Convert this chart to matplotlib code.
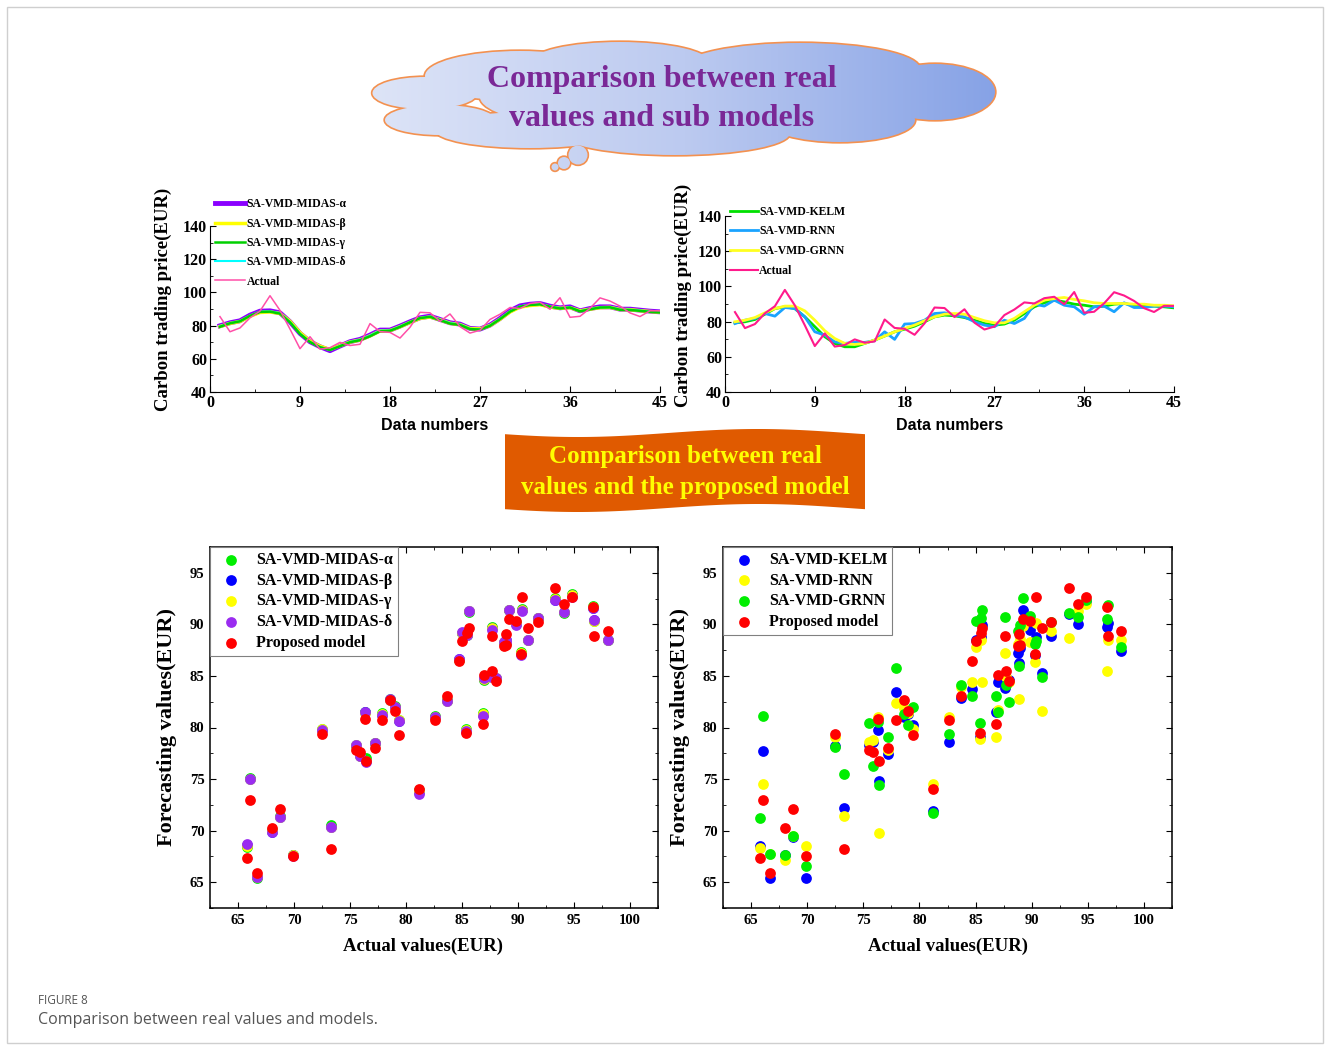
import numpy as np
import matplotlib
matplotlib.use("Agg")
import matplotlib.pyplot as plt
from matplotlib.patches import Ellipse, Rectangle, Polygon, Circle
from matplotlib.colors import LinearSegmentedColormap
from matplotlib.ticker import MultipleLocator

W, H = 1330, 1050
SERIF = ["Liberation Serif", "DejaVu Serif"]
SANS = ["Liberation Sans", "DejaVu Sans"]

# ---- data -------------------------------------------------------------
t = list(range(1, 46))
actual = [85.4, 76.3, 78.6, 84.7, 88.75, 98.0, 89.2, 77.9, 66.1, 73.3, 65.8, 66.7, 69.9, 68.0, 68.75,
          81.2, 76.4, 75.9, 72.5, 79.0, 88.0, 87.7, 82.6, 87.0, 79.4, 75.5, 77.2, 83.7, 86.85, 90.9,
          90.3, 93.3, 94.1, 89.85, 96.8, 85.0, 85.6, 90.4, 96.7, 94.8, 91.75, 87.65, 85.45, 88.95, 88.9]

# top-left line chart (sub models)
midas_a = [79.9, 81.7, 82.9, 86.3, 88.7, 88.9, 87.7, 82.3, 75.3, 70.3, 67.3, 64.9, 67.7, 70.3, 71.7,
           74.3, 77.3, 77.3, 79.7, 82.3, 84.7, 85.7, 83.7, 81.7, 80.9, 78.3, 77.9, 80.3, 84.3, 88.9,
           91.9, 92.9, 93.3, 91.7, 90.7, 91.3, 88.9, 90.3, 91.3, 91.3, 89.9, 89.9, 89.3, 88.7, 88.3]
midas_b = [79.5, 81.3, 82.5, 85.6, 87.9, 88.2, 87.3, 82.6, 75.8, 70.6, 67.6, 65.6, 67.9, 70.1, 71.3,
           73.8, 76.8, 77.0, 79.3, 81.9, 84.3, 85.2, 83.5, 81.4, 80.6, 78.2, 78.0, 80.0, 83.8, 88.2,
           91.1, 92.1, 92.6, 91.2, 90.4, 90.8, 88.9, 89.9, 90.8, 91.0, 89.7, 89.6, 89.0, 88.5, 88.1]
midas_g = [79.3, 81.4, 82.6, 85.9, 88.2, 88.4, 87.2, 82.0, 75.0, 70.1, 67.0, 65.3, 67.6, 70.0, 71.2,
           73.6, 76.6, 76.9, 79.2, 82.0, 84.5, 85.3, 83.3, 81.2, 80.4, 77.9, 77.6, 79.9, 83.9, 88.4,
           91.4, 92.4, 92.8, 91.4, 90.3, 90.9, 88.6, 89.8, 90.9, 91.0, 89.5, 89.4, 88.9, 88.3, 87.9]
midas_d = [79.6, 81.5, 82.7, 86.0, 88.4, 88.6, 87.5, 82.2, 75.2, 70.2, 67.2, 65.2, 67.8, 70.2, 71.5,
           74.0, 77.0, 77.1, 79.5, 82.1, 84.5, 85.5, 83.6, 81.5, 80.7, 78.1, 77.8, 80.1, 84.0, 88.6,
           91.6, 92.6, 93.0, 91.5, 90.5, 91.0, 88.7, 90.0, 91.0, 91.1, 89.7, 89.6, 89.1, 88.5, 88.1]

# top-right line chart
kelm = [79.3, 79.9, 81.2, 84.2, 87.4, 88.4, 87.4, 82.7, 77.1, 71.4, 67.6, 65.7, 65.7, 67.6, 69.5,
        71.8, 74.2, 75.7, 77.4, 79.9, 82.7, 83.7, 83.3, 82.3, 80.8, 78.9, 78.0, 78.6, 80.8, 84.6,
        88.4, 90.7, 92.2, 91.2, 89.9, 89.3, 88.4, 88.8, 89.9, 90.3, 89.3, 88.8, 88.8, 88.4, 87.8]
rnn = [78.9, 80.8, 81.8, 84.6, 83.1, 88.0, 87.4, 82.7, 74.2, 72.3, 68.5, 67.6, 68.2, 68.2, 69.1,
       74.2, 69.9, 78.6, 78.9, 80.8, 84.6, 85.0, 83.7, 82.7, 79.9, 78.0, 77.1, 80.8, 78.9, 81.8,
       89.9, 88.8, 92.2, 89.3, 88.4, 84.2, 88.4, 88.8, 85.6, 90.7, 88.0, 88.0, 88.8, 88.8, 88.4]
grnn = [79.9, 80.8, 82.3, 85.0, 87.4, 88.8, 88.8, 86.1, 80.8, 74.8, 70.4, 67.6, 67.0, 67.6, 69.5,
        71.8, 74.2, 76.1, 78.0, 80.5, 82.7, 84.2, 84.6, 84.2, 82.3, 80.5, 79.3, 79.3, 81.8, 85.6,
        89.3, 92.2, 93.1, 93.7, 92.6, 91.8, 90.7, 90.3, 90.3, 90.3, 89.9, 89.9, 89.3, 89.3, 89.0]

# scatter plots: predictions ordered by increasing actual value
scatter_x = sorted(actual)
proposed = [67.3, 73.0, 65.9, 70.3, 72.1, 67.5, 79.4, 68.2, 77.85, 77.65, 80.8, 76.8, 78.0, 80.7, 82.65,
            81.6, 79.3, 74.0, 80.7, 83.05, 86.4, 88.4, 79.5, 89.2, 89.65, 80.35, 85.1, 88.9, 85.45, 84.5,
            87.9, 89.1, 88.0, 90.55, 90.3, 87.15, 92.7, 89.6, 90.2, 93.5, 91.95, 92.7, 91.7, 88.85, 89.4]
sc_alpha = [68.4, 75.1, 65.4, 70.1, 71.4, 67.6, 79.9, 70.55, 78.2, 77.3, 81.5, 77.0, 78.5, 81.4, 82.8,
            82.1, 80.7, 73.9, 81.1, 82.7, 86.5, 89.2, 79.85, 89.0, 91.2, 81.4, 84.6, 89.75, 85.0, 84.7,
            88.2, 88.4, 88.2, 91.4, 90.1, 87.3, 91.5, 88.5, 90.6, 92.6, 91.1, 92.9, 91.8, 90.3, 88.5]
sc_beta = [68.6, 75.0, 65.5, 69.9, 71.3, 67.6, 79.8, 70.4, 78.3, 77.2, 81.5, 76.8, 78.5, 81.2, 82.7,
           82.0, 80.6, 73.7, 81.0, 82.6, 86.6, 89.2, 79.7, 89.0, 91.3, 81.2, 84.7, 89.6, 84.9, 84.8,
           88.3, 88.5, 88.3, 91.4, 90.0, 87.1, 91.4, 88.5, 90.6, 92.4, 91.2, 92.8, 91.6, 90.4, 88.5]
sc_gamma = [68.5, 75.0, 65.5, 70.0, 71.3, 67.6, 79.9, 70.4, 78.3, 77.2, 81.4, 76.8, 78.5, 81.3, 82.7,
            82.0, 80.7, 73.8, 81.0, 82.6, 86.5, 89.2, 79.8, 89.0, 91.3, 81.3, 84.7, 89.6, 84.9, 84.8,
            88.3, 88.4, 88.3, 91.4, 90.0, 87.2, 91.4, 88.5, 90.6, 92.5, 91.2, 92.8, 91.7, 90.3, 88.5]
sc_delta = [68.66, 75.0, 65.55, 69.85, 71.3, 67.55, 79.8, 70.35, 78.35, 77.2, 81.5, 76.7, 78.5, 81.2, 82.75,
            82.0, 80.6, 73.6, 81.0, 82.6, 86.6, 89.25, 79.7, 89.0, 91.3, 81.1, 84.8, 89.5, 84.9, 84.8,
            88.3, 88.5, 88.3, 91.4, 89.9, 87.0, 91.3, 88.45, 90.6, 92.35, 91.2, 92.7, 91.55, 90.4, 88.5]
sc_kelm = [68.5, 77.7, 65.4, 67.6, 69.4, 65.4, 78.2, 72.15, 78.3, 78.6, 79.8, 74.8, 77.45, 83.4, 81.0,
           81.3, 80.2, 71.9, 78.6, 82.9, 83.7, 88.5, 79.1, 88.8, 89.9, 81.5, 84.4, 83.8, 84.6, 84.6,
           87.2, 86.3, 87.7, 91.4, 89.5, 87.0, 88.8, 85.3, 88.85, 91.0, 90.0, 92.2, 89.7, 90.1, 87.4]
sc_rnn = [68.3, 74.5, 67.7, 67.2, 69.45, 68.5, 79.1, 71.45, 78.6, 78.8, 81.0, 69.8, 77.85, 82.4, 81.9,
          81.4, 79.9, 74.5, 81.0, 83.9, 84.4, 87.8, 78.9, 88.5, 84.4, 79.05, 81.7, 87.2, 84.9, 84.4,
          88.1, 82.8, 88.6, 89.8, 88.3, 86.35, 90.15, 81.6, 89.4, 88.7, 91.3, 91.95, 85.45, 88.45, 88.5]
sc_grnn = [71.2, 81.1, 67.7, 67.65, 69.45, 66.6, 78.1, 75.5, 80.4, 76.3, 80.5, 74.4, 79.1, 85.8, 81.3,
           80.2, 82.0, 71.7, 79.4, 84.15, 83.1, 90.3, 80.45, 90.6, 91.4, 83.1, 81.5, 90.7, 84.1, 82.5,
           89.4, 86.0, 89.9, 92.6, 90.8, 88.1, 88.4, 84.85, 90.25, 91.1, 90.7, 92.4, 90.5, 91.9, 87.8]

# ---- figure -------------------------------------------------------------
fig = plt.figure(figsize=(W / 100, H / 100), dpi=100)
bg = fig.add_axes([0, 0, 1, 1], zorder=-5)
bg.set_xlim(0, W)
bg.set_ylim(H, 0)
bg.axis("off")

# outer frame
bg.add_patch(Rectangle((7, 7), 1316, 1036, fill=False, ec="#cfcfcf", lw=1))

# thought cloud, lobes in pixel units (cx, cy, w, h)
lobes = [(425, 93, 105, 32), (440, 120, 110, 30), (520, 76, 190, 50), (620, 63, 180, 42),
         (800, 69, 240, 52), (935, 92, 120, 56), (840, 120, 150, 44), (675, 133, 230, 44),
         (530, 130, 190, 36), (690, 97, 420, 78)]
bubbles = [(578, 155, 9.5), (564, 163, 6), (555, 167, 3.5)]
cmap = LinearSegmentedColormap.from_list("cl", ["#dde4f7", "#bccaf0", "#86a2e6"])
grad = np.linspace(0, 1, 256).reshape(1, -1)
shapes = [Ellipse((cx, cy), w, h) for cx, cy, w, h in lobes] + [Circle((x, y), r) for x, y, r in bubbles]
for s in shapes:
    s.set_facecolor("none")
    s.set_edgecolor("#f39150")
    s.set_linewidth(2.4)
    bg.add_patch(s)
for s in shapes:
    im = bg.imshow(grad, cmap=cmap, extent=(372, 998, 175, 40), aspect="auto", zorder=2)
    im.set_clip_path(s)
bg.set_xlim(0, W)
bg.set_ylim(H, 0)
bg.text(662, 99, "Comparison between real\nvalues and sub models", ha="center", va="center",
        color="#7a2896", fontsize=23, fontweight="bold", family=SERIF, linespacing=1.47, zorder=3)

# orange wavy banner
xs = np.linspace(505, 865, 80)
top = 433 + 4 * np.sin((xs - 505) / 360 * 2 * np.pi + 0.3)
bot = 508 + 4 * np.sin((xs - 505) / 360 * 2 * np.pi + 0.3)
verts = list(zip(xs, top)) + list(zip(xs[::-1], bot[::-1]))
bg.add_patch(Polygon(verts, closed=True, fc="#e05a00", ec="none", zorder=2))
bg.text(685, 472, "Comparison between real\nvalues and the proposed model", ha="center", va="center",
        color="#ffff00", fontsize=18, fontweight="bold", family=SERIF, linespacing=1.42, zorder=3)

# caption
bg.text(38, 1000, "FIGURE 8", ha="left", va="center", fontsize=8.5, color="#555555",
        family=["Open Sans", "DejaVu Sans"])
bg.text(38, 1020, "Comparison between real values and models.", ha="left", va="center", fontsize=11.5,
        color="#555555", family=["Open Sans", "DejaVu Sans"])


def px_axes(x0, y0, x1, y1):
    return fig.add_axes([x0 / W, 1 - y1 / H, (x1 - x0) / W, (y1 - y0) / H])


def style_ticks(ax, size):
    for lab in ax.get_xticklabels() + ax.get_yticklabels():
        lab.set_fontfamily(SERIF)
        lab.set_fontweight("bold")
        lab.set_fontsize(size)


def line_chart(ax, label_xy):
    ax.set_facecolor("none")
    ax.set_xlim(0, 45)
    ax.set_ylim(40, 140)
    ax.xaxis.set_major_locator(MultipleLocator(9))
    ax.xaxis.set_minor_locator(MultipleLocator(4.5))
    ax.yaxis.set_major_locator(MultipleLocator(20))
    ax.yaxis.set_minor_locator(MultipleLocator(10))
    ax.spines["top"].set_visible(False)
    ax.spines["right"].set_visible(False)
    ax.tick_params(which="both", direction="in", pad=2)
    ax.tick_params(which="major", length=4)
    ax.tick_params(which="minor", length=2)
    style_ticks(ax, 11.5)
    ax.set_ylabel("Carbon trading price(EUR)", family=SERIF, fontweight="bold", fontsize=13.5)
    ax.yaxis.set_label_coords(*label_xy)
    ax.set_xlabel("Data numbers", family=SANS, fontweight="bold", fontsize=11.5, labelpad=5)


leg_font = {"family": SERIF, "weight": "bold", "size": 8.5}

ax1 = px_axes(210, 226, 660, 392)
ax1.plot(t, midas_a, color="#8a00ff", lw=3.5, label="SA-VMD-MIDAS-α")
ax1.plot(t, midas_b, color="#ffff00", lw=2.5, label="SA-VMD-MIDAS-β")
ax1.plot(t, midas_d, color="#00ffff", lw=1.5, label="SA-VMD-MIDAS-δ")
ax1.plot(t, midas_g, color="#00d000", lw=1.8, label="SA-VMD-MIDAS-γ")
ax1.plot(t, actual, color="#ff4fa8", lw=1.1, label="Actual")
line_chart(ax1, (-0.084, 0.56))
h, l = ax1.get_legend_handles_labels()
order = [0, 1, 3, 2, 4]
ax1.legend([h[i] for i in order], [l[i] for i in order], loc="upper left", bbox_to_anchor=(0.0, 1.195),
           frameon=False, prop=leg_font, handlelength=2.6, handletextpad=0.1, labelspacing=0.62,
           borderaxespad=0)

ax2 = px_axes(725, 216, 1174, 392)
ax2.plot(t, kelm, color="#00e000", lw=2, label="SA-VMD-KELM")
ax2.plot(t, rnn, color="#1aa3ff", lw=2, label="SA-VMD-RNN")
ax2.plot(t, grnn, color="#ffff20", lw=2, label="SA-VMD-GRNN")
ax2.plot(t, actual, color="#ff1a8c", lw=1.5, label="Actual")
line_chart(ax2, (-0.073, 0.55))
ax2.legend(loc="upper left", bbox_to_anchor=(0.0, 1.085), frameon=False, prop=leg_font,
           handlelength=2.4, handletextpad=0.1, labelspacing=0.65, borderaxespad=0)


def scatter_chart(ax, xlabel_x):
    ax.set_facecolor("none")
    ax.set_xlim(62.5, 102.5)
    ax.set_ylim(62.5, 97.5)
    ax.xaxis.set_major_locator(MultipleLocator(5))
    ax.xaxis.set_minor_locator(MultipleLocator(2.5))
    ax.yaxis.set_major_locator(MultipleLocator(5))
    ax.yaxis.set_minor_locator(MultipleLocator(2.5))
    ax.tick_params(which="both", direction="in", right=True, top=True, pad=4)
    ax.tick_params(which="major", length=4)
    ax.tick_params(which="minor", length=2.5)
    for sp in ax.spines.values():
        sp.set_linewidth(1.1)
    style_ticks(ax, 10.5)
    ax.set_ylabel("Forecasting values(EUR)", family=SERIF, fontweight="bold", fontsize=16)
    ax.yaxis.set_label_coords(-0.074, 0.5)
    ax.set_xlabel("Actual values(EUR)", family=SERIF, fontweight="bold", fontsize=13.5)
    ax.xaxis.set_label_coords(xlabel_x, -0.082)


sc_font = {"family": SERIF, "weight": "bold", "size": 11.5}
S = 60
leg_kw = dict(loc="upper left", borderaxespad=0, prop=sc_font, fancybox=False, edgecolor="#808080",
              framealpha=1, handletextpad=0.6, labelspacing=0.3, borderpad=0.3, handlelength=2.0)

ax3 = px_axes(210, 547, 658, 908)
ax3.scatter(scatter_x, sc_alpha, s=S, color="#00ee00", lw=0, label="SA-VMD-MIDAS-α")
ax3.scatter(scatter_x, sc_beta, s=S, color="#0000ff", lw=0, label="SA-VMD-MIDAS-β")
ax3.scatter(scatter_x, sc_gamma, s=S, color="#ffff00", lw=0, label="SA-VMD-MIDAS-γ")
ax3.scatter(scatter_x, sc_delta, s=S, color="#9a2cf0", lw=0, label="SA-VMD-MIDAS-δ")
ax3.scatter(scatter_x, proposed, s=S, color="#ff0000", lw=0, label="Proposed model")
scatter_chart(ax3, 0.475)
lg = ax3.legend(**leg_kw)
lg.get_frame().set_linewidth(0.8)

ax4 = px_axes(723, 547, 1172, 908)
ax4.scatter(scatter_x, sc_kelm, s=S, color="#0000ff", lw=0, label="SA-VMD-KELM")
ax4.scatter(scatter_x, sc_rnn, s=S, color="#ffff00", lw=0, label="SA-VMD-RNN")
ax4.scatter(scatter_x, sc_grnn, s=S, color="#00ee00", lw=0, label="SA-VMD-GRNN")
ax4.scatter(scatter_x, proposed, s=S, color="#ff0000", lw=0, label="Proposed model")
scatter_chart(ax4, 0.5)
lg = ax4.legend(**leg_kw)
lg.get_frame().set_linewidth(0.8)

fig.savefig("out.png", dpi=100)
